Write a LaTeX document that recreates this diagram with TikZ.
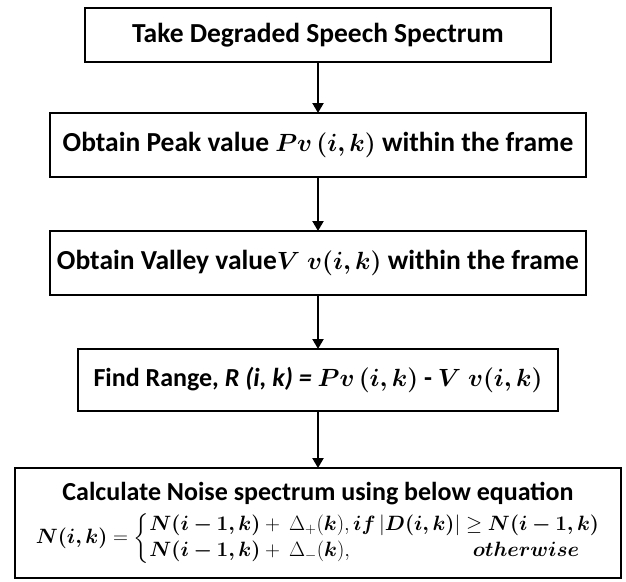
\documentclass[tikz,border=0pt]{standalone}
\usepackage{amsmath}
\usepackage{bm}
\usepackage{fontspec}
\setmainfont{Carlito}
\usetikzlibrary{positioning,arrows.meta}

\begin{document}
\begin{tikzpicture}[x=1pt,y=1pt,node distance=54pt,
    stepbox/.style={draw,line width=2.4pt,outer sep=0pt,align=center,inner sep=0pt,
      font=\fontsize{27.5}{32}\selectfont\bfseries},
    flow/.style={line width=2.2pt,-{Triangle[length=10pt,width=11pt]}}]
  \useasboundingbox (0,0) rectangle (626,-581);
  \node[stepbox,minimum width=466pt,minimum height=54pt] (take) at (318,-35)
    {Take Degraded Speech Spectrum};
  \node[stepbox,minimum width=536pt,minimum height=64pt,below=51pt of take] (peak)
    {Obtain Peak value $\bm{Pv\,(i,k)}$ within the frame};
  \node[stepbox,minimum width=536pt,minimum height=64pt,below=of peak] (valley)
    {Obtain Valley value$\bm{V\;v(i,k)}$ within the frame};
  \node[stepbox,minimum width=480pt,minimum height=62pt,below=of valley,
    font=\fontsize{26}{30}\selectfont\bfseries] (range)
    {Find Range, \textit{R (i, k) =} $\bm{Pv\,(i,k)}$ - $\bm{V\;v(i,k)}$};
  \node[stepbox,minimum width=606pt,minimum height=110pt,below=57pt of range] (noise)
    {\fontsize{26}{30}\selectfont Calculate Noise spectrum using below equation\\[7pt]
     \fontsize{19.8}{24}\selectfont
     $\bm{N(i,k)} = \left\{\begin{array}{@{}l@{}}
       \bm{N(i-1,k)} +\ \Delta_{+}(\bm{k}), \bm{if}\,|\bm{D(i,k)}| \geq \bm{N(i-1,k)}\\[2pt]
       \bm{N(i-1,k)} +\ \Delta_{-}(\bm{k}), \hfill \bm{otherwise}\quad
     \end{array}\right.$};
  % arrows between steps
  \draw[flow] (take) -- (peak);
  \draw[flow] (peak) -- (valley);
  \draw[flow] (valley) -- (range);
  \draw[flow] (range) -- (noise);
\end{tikzpicture}
\end{document}
